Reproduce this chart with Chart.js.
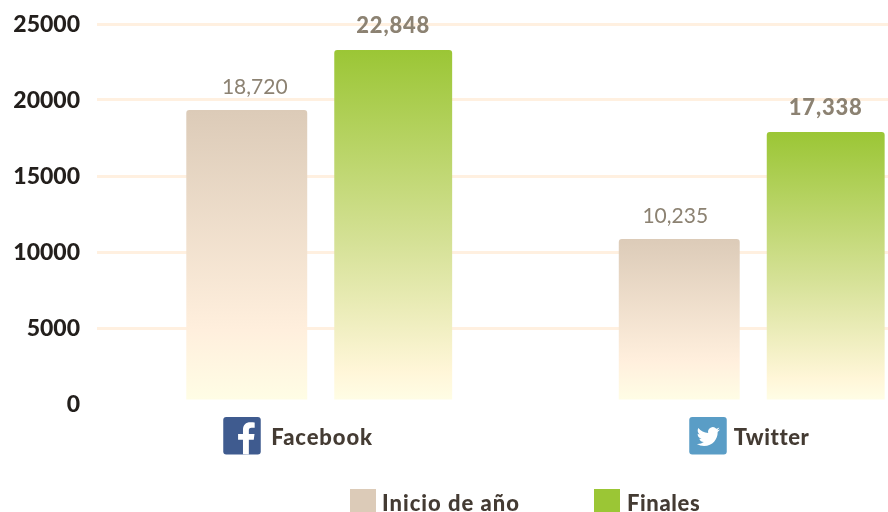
<!DOCTYPE html>
<html><head><meta charset="utf-8">
<style>html,body{margin:0;padding:0;background:#fff;overflow:hidden;width:888px;height:512px}canvas{display:block}</style>
<script src="https://cdn.jsdelivr.net/npm/chart.js@4"></script>
</head><body>
<canvas id="c" width="968" height="512"></canvas>
<script>
const categories=['Facebook','Twitter'];
const seriesNames=['Inicio de año','Finales'];
// bar heights
const inicioHeights=[19340,10855];
const finalesHeights=[23290,17895];
// figures printed above the bars
const inicioLabels=['18,720','10,235'];
const finalesLabels=['22,848','17,338'];
const yTicks=[0,5000,10000,15000,20000,25000];
const FONT='Lato';
function grad(stops){return c=>{
  const ch=c.chart,y=ch.scales.y;
  const top=y?y.getPixelForValue(c.raw):NaN,bot=y?y.getPixelForValue(300):NaN;
  if(!isFinite(top)||!isFinite(bot))return stops[0][1];
  const g=ch.ctx.createLinearGradient(0,top,0,bot);
  stops.forEach(s=>g.addColorStop(s[0],s[1]));return g;};}
const fbPath=new Path2D('M25.6 37.4V22.8h4.9l.75-5.7H25.6v-3.6c0-1.65.45-2.8 2.83-2.8h3V5.6c-.5-.07-2.3-.23-4.4-.23-4.35 0-7.3 2.65-7.3 7.5v4.2h-4.9v5.7h4.9v14.6z');
const twPath=new Path2D('M23.953 4.57a10 10 0 01-2.825.775 4.958 4.958 0 002.163-2.723c-.951.555-2.005.959-3.127 1.184a4.92 4.92 0 00-8.384 4.482C7.69 8.095 4.067 6.13 1.64 3.162a4.822 4.822 0 00-.666 2.475c0 1.71.87 3.213 2.188 4.096a4.904 4.904 0 01-2.228-.616v.06a4.923 4.923 0 003.946 4.827 4.996 4.996 0 01-2.212.085 4.936 4.936 0 004.604 3.417 9.867 9.867 0 01-6.102 2.105c-.39 0-.779-.023-1.17-.067a13.995 13.995 0 007.557 2.209c9.053 0 13.998-7.496 13.998-13.985 0-.21 0-.42-.015-.63A9.935 9.935 0 0024 4.59z');
function rr(ctx,x,y,w,h,r,col){ctx.fillStyle=col;ctx.beginPath();ctx.roundRect(x,y,w,h,r);ctx.fill();}
function label(ctx,t,x,y,ls){ctx.letterSpacing=ls+'px';ctx.fillText(t,x,y);ctx.letterSpacing='0px';}
const decor={id:'decor',afterDatasetsDraw(ch){
  const ctx=ch.ctx,x=ch.scales.x;ctx.save();
  ctx.textAlign='center';ctx.textBaseline='middle';ctx.fillStyle='#8c8272';
  ch.getDatasetMeta(0).data.forEach((b,i)=>{
    ctx.font='400 21px '+FONT;
    label(ctx,inicioLabels[i],b.x+(i?-4:8),b.y-23,0);
  });
  ch.getDatasetMeta(1).data.forEach((b,i)=>{
    ctx.font='900 22px '+FONT;
    label(ctx,finalesLabels[i],b.x,b.y-24,.8);
  });
  const fbX=x.getPixelForValue(0),twX=x.getPixelForValue(1),iy=417,ic=37.5;
  rr(ctx,fbX-96,iy,ic,ic,3,'#3f5b8f');
  ctx.save();ctx.translate(fbX-96,iy);ctx.fillStyle='#fff';ctx.fill(fbPath);ctx.restore();
  rr(ctx,twX-62.5,iy,ic,ic,3,'#5a9dc6');
  ctx.save();ctx.translate(twX-55,iy+8);ctx.scale(.97,.97);ctx.fillStyle='#fff';ctx.fill(twPath);ctx.restore();
  ctx.textAlign='left';ctx.textBaseline='alphabetic';ctx.fillStyle='#443b33';
  ctx.font='900 22px '+FONT;
  label(ctx,categories[0],fbX-48,445,.9);
  label(ctx,categories[1],twX-18,445,.6);
  ctx.fillStyle='#dccbb8';ctx.fillRect(350,489,26,23);
  ctx.fillStyle='#9bc635';ctx.fillRect(594,489,26,23);
  ctx.fillStyle='#443b33';
  label(ctx,seriesNames[0],382,511,1);
  label(ctx,seriesNames[1],627,511,.6);
  ctx.restore();
}};
new Chart(document.getElementById('c'),{
  type:'bar',
  data:{labels:categories,datasets:[
    {label:seriesNames[0],data:inicioHeights,base:300,borderRadius:{topLeft:3,topRight:3},borderSkipped:false,
     barPercentage:.834,categoryPercentage:.6705,
     backgroundColor:grad([[0,'#dccbb8'],[.76,'#ffefdd'],[1,'#fffde5']])},
    {label:seriesNames[1],data:finalesHeights,base:300,borderRadius:{topLeft:3,topRight:3},borderSkipped:false,
     barPercentage:.797,categoryPercentage:.684,
     backgroundColor:grad([[0,'#9bc635'],[.55,'#d5e196'],[.92,'#fff6d8'],[1,'#fffde5']])}
  ]},
  options:{responsive:false,animation:false,events:[],
    layout:{padding:{top:24,bottom:108,left:0,right:0}},
    plugins:{legend:{display:false},tooltip:{enabled:false},title:{display:false}},
    scales:{
      x:{display:false},
      y:{min:0,max:25000,
        afterFit(s){s.width=103;s.paddingTop=0;s.paddingBottom=0;},
        afterBuildTicks(s){s.ticks=yTicks.map(v=>({value:v}));},
        border:{display:false},
        grid:{color:c=>c.tick&&c.tick.value===0?'rgba(0,0,0,0)':'#fff0e0',lineWidth:3,drawTicks:true,tickLength:6,tickColor:c=>c.tick&&c.tick.value===0?'rgba(0,0,0,0)':'#fff0e0',tickWidth:3},
        ticks:{padding:17,color:'#231f1c',font:{family:FONT,weight:'900',size:23},labelOffset:1,callback:v=>String(v)}
      }
    }
  },
  plugins:[decor]
});
</script>
</body></html>
